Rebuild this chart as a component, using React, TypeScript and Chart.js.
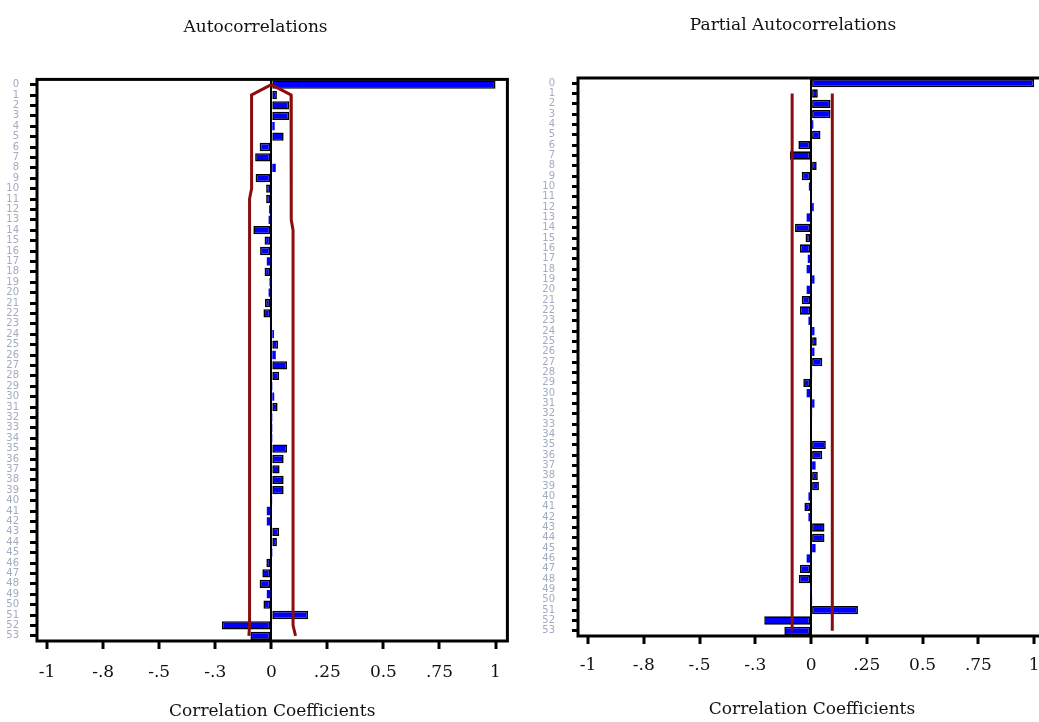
import { useEffect, useRef } from 'react';
import { Chart, registerables } from 'chart.js';
Chart.register(...registerables);

const lags = ['0','1','2','3','4','5','6','7','8','9','10','11','12','13','14','15','16','17','18','19','20','21','22','23','24','25','26','27','28','29','30','31','32','33','34','35','36','37','38','39','40','41','42','43','44','45','46','47','48','49','50','51','52','53'];

const acfValues = [1, 0.025, 0.08, 0.08, 0.015, 0.055, -0.052, -0.072, 0.02, -0.07, -0.023, -0.023, -0.01, -0.012, -0.08, -0.03, -0.05, -0.02, -0.03, -0.008, -0.012, -0.028, -0.035, -0.005, 0.012, 0.03, 0.02, 0.07, 0.035, 0.003, 0.013, 0.028, 0.001, 0.002, 0.001, 0.07, 0.055, 0.037, 0.055, 0.055, 0.005, -0.02, -0.02, 0.035, 0.025, 0.003, -0.022, -0.04, -0.052, -0.02, -0.035, 0.164, -0.22, -0.093];

const pacfValues = [1, 0.03, 0.087, 0.087, 0.01, 0.042, -0.057, -0.095, 0.025, -0.042, -0.01, -0.005, 0.012, -0.02, -0.072, -0.025, -0.05, -0.015, -0.02, 0.015, -0.02, -0.042, -0.05, -0.012, 0.015, 0.025, 0.015, 0.05, 0.003, -0.035, -0.02, 0.015, 0.002, 0, 0, 0.066, 0.05, 0.02, 0.03, 0.035, -0.012, -0.03, -0.012, 0.06, 0.06, 0.02, -0.02, -0.05, -0.055, -0.003, 0.002, 0.21, -0.21, -0.12];

const acfUpper = [0, 0.088, 0.088, 0.088, 0.088, 0.088, 0.088, 0.088, 0.088, 0.088, 0.088, 0.092, 0.092, 0.092, 0.097, 0.097, 0.097, 0.097, 0.097, 0.097, 0.097, 0.097, 0.097, 0.097, 0.097, 0.097, 0.097, 0.097, 0.097, 0.097, 0.097, 0.097, 0.097, 0.097, 0.097, 0.097, 0.097, 0.097, 0.097, 0.097, 0.097, 0.097, 0.097, 0.097, 0.097, 0.097, 0.097, 0.097, 0.097, 0.097, 0.097, 0.097, 0.097, 0.108];
const acfLower = [0, -0.088, -0.088, -0.088, -0.088, -0.088, -0.088, -0.088, -0.088, -0.088, -0.088, -0.097, -0.097, -0.097, -0.097, -0.097, -0.097, -0.097, -0.097, -0.097, -0.097, -0.097, -0.097, -0.097, -0.097, -0.097, -0.097, -0.097, -0.097, -0.097, -0.097, -0.097, -0.097, -0.097, -0.097, -0.097, -0.097, -0.097, -0.097, -0.097, -0.097, -0.097, -0.097, -0.097, -0.097, -0.097, -0.097, -0.097, -0.097, -0.097, -0.097, -0.097, -0.097, -0.1];

const pacfUpper = [null, 0.095, 0.095, 0.095, 0.095, 0.095, 0.095, 0.095, 0.095, 0.095, 0.095, 0.095, 0.095, 0.095, 0.095, 0.095, 0.095, 0.095, 0.095, 0.095, 0.095, 0.095, 0.095, 0.095, 0.095, 0.095, 0.095, 0.095, 0.095, 0.095, 0.095, 0.095, 0.095, 0.095, 0.095, 0.095, 0.095, 0.095, 0.095, 0.095, 0.095, 0.095, 0.095, 0.095, 0.095, 0.095, 0.095, 0.095, 0.095, 0.095, 0.095, 0.095, 0.095, 0.095];
const pacfLower = [null, -0.085, -0.085, -0.085, -0.085, -0.085, -0.085, -0.085, -0.085, -0.085, -0.085, -0.085, -0.085, -0.085, -0.085, -0.085, -0.085, -0.085, -0.085, -0.085, -0.085, -0.085, -0.085, -0.085, -0.085, -0.085, -0.085, -0.085, -0.085, -0.085, -0.085, -0.085, -0.085, -0.085, -0.085, -0.085, -0.085, -0.085, -0.085, -0.085, -0.085, -0.085, -0.085, -0.085, -0.085, -0.085, -0.085, -0.085, -0.085, -0.085, -0.085, -0.085, -0.085, -0.085];

const xTickValues = [-1, -0.75, -0.5, -0.25, 0, 0.25, 0.5, 0.75, 1];
const xTickLabels = ['-1', '-.8', '-.5', '-.3', '0', '.25', '0.5', '.75', '1'];

const SERIF = '"DejaVu Serif", "Liberation Serif", serif';

const framePlugin = {
  id: 'frame',
  afterDraw(chart: any) {
    const { ctx, chartArea } = chart;
    const { left, top, right, bottom } = chartArea;
    ctx.save();
    ctx.strokeStyle = '#000';
    ctx.lineWidth = 3;
    ctx.strokeRect(left, top, right - left, bottom - top);
    ctx.restore();
  },
};

type Geo = {
  padRight: number;
  yWidth: number;
  xHeight: number;
  titleTop: number;
  titleBottom: number;
  xTickPad: number;
  yTickPad: number;
  yTickLen: number;
  xTitlePadBottom: number;
};

function CorrChart(props: {
  width: number;
  left: number;
  title: string;
  values: number[];
  upper: (number | null)[];
  lower: (number | null)[];
  geo: Geo;
}) {
  const ref = useRef<HTMLCanvasElement | null>(null);
  useEffect(() => {
    if (!ref.current) return;
    const g = props.geo;
    const band = '#8a0e0e';
    const chart = new Chart(ref.current, {
      type: 'bar',
      data: {
        labels: lags,
        datasets: [
          {
            type: 'line',
            data: props.upper as any,
            borderColor: band,
            borderWidth: 3,
            pointRadius: 0,
            fill: false,
            order: 1,
          } as any,
          {
            type: 'line',
            data: props.lower as any,
            borderColor: band,
            borderWidth: 3,
            pointRadius: 0,
            fill: false,
            order: 1,
          } as any,
          {
            type: 'bar',
            data: props.values,
            backgroundColor: '#0000ff',
            borderColor: '#000',
            borderWidth: (c: any) => (Math.abs(c.raw) < 0.021 ? 0 : 1.6),
            borderSkipped: false,
            barPercentage: 0.8,
            categoryPercentage: 1,
            order: 2,
          } as any,
        ],
      },
      options: {
        indexAxis: 'y',
        responsive: false,
        animation: false,
        layout: { padding: { left: 0, right: g.padRight, top: 0, bottom: 0 } },
        plugins: {
          legend: { display: false },
          tooltip: { enabled: false },
          title: {
            display: true,
            text: props.title,
            color: '#111',
            font: { family: SERIF, size: 17, weight: 'normal' },
            padding: { top: g.titleTop, bottom: g.titleBottom },
          },
        },
        scales: {
          x: {
            type: 'linear',
            min: -1.045,
            max: 1.053,
            afterBuildTicks: (s: any) => {
              s.ticks = xTickValues.map((v) => ({ value: v }));
            },
            afterFit: (s: any) => {
              s.height = g.xHeight;
            },
            ticks: {
              autoSkip: false,
              maxRotation: 0,
              padding: g.xTickPad,
              color: '#111',
              font: { family: SERIF, size: 17 },
              callback: (v: any) => {
                const i = xTickValues.indexOf(Number(v));
                return i >= 0 ? xTickLabels[i] : '';
              },
            },
            grid: {
              drawOnChartArea: true,
              color: (c: any) => (c.tick && c.tick.value === 0 ? '#000' : 'rgba(0,0,0,0)'),
              lineWidth: 2,
              tickColor: '#000',
              tickLength: 8,
              tickWidth: 3,
            },
            border: { display: false },
            title: {
              display: true,
              text: 'Correlation Coefficients',
              color: '#111',
              font: { family: SERIF, size: 17 },
              padding: { top: 0, bottom: g.xTitlePadBottom },
            },
          },
          y: {
            type: 'category',
            offset: true,
            afterFit: (s: any) => {
              s.width = g.yWidth;
            },
            ticks: {
              autoSkip: false,
              padding: g.yTickPad,
              color: '#a3abc0',
              font: { family: '"DejaVu Sans", sans-serif', size: 10 },
            },
            grid: {
              offset: false,
              drawOnChartArea: false,
              tickColor: '#000',
              tickLength: g.yTickLen,
              tickWidth: 3,
            },
            border: { display: false },
          },
        },
      } as any,
      plugins: [framePlugin],
    });
    return () => chart.destroy();
  }, []);
  return (
    <canvas
      ref={ref}
      width={props.width}
      height={722}
      style={{ position: 'absolute', left: props.left, top: 0 }}
    />
  );
}

export default function App() {
  return (
    <div
      style={{
        position: 'fixed',
        left: 0,
        top: 0,
        width: 1039,
        height: 722,
        overflow: 'hidden',
        background: '#fff',
      }}
    >
      <CorrChart
        width={514}
        left={0}
        title="Autocorrelations"
        values={acfValues}
        upper={acfUpper}
        lower={acfLower}
        geo={{ padRight: 3, yWidth: 37, xHeight: 81, titleTop: 17, titleBottom: 42, xTickPad: 13, yTickPad: 11, yTickLen: 7, xTitlePadBottom: 0 }}
      />
      <CorrChart
        width={516}
        left={540}
        title="Partial Autocorrelations"
        values={pacfValues}
        upper={pacfUpper}
        lower={pacfLower}
        geo={{ padRight: 10, yWidth: 38, xHeight: 86, titleTop: 15, titleBottom: 42.6, xTickPad: 11, yTickPad: 17, yTickLen: 6, xTitlePadBottom: 2 }}
      />
    </div>
  );
}
